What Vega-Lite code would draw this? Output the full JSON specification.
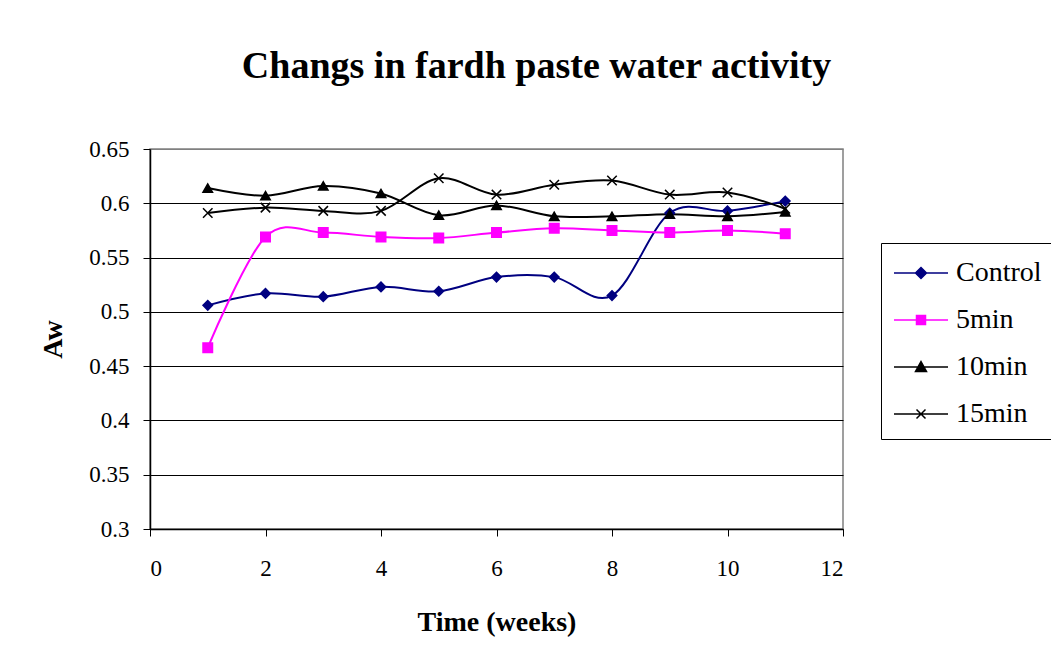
{
  "$schema": "https://vega.github.io/schema/vega-lite/v6.json",
  "width": 693,
  "height": 380,
  "autosize": {"type": "none"},
  "padding": {"left": 150, "top": 149, "right": 208, "bottom": 137},
  "background": "white",
  "title": {
    "text": "Changs in fardh paste water activity",
    "font": "Liberation Serif",
    "fontSize": 38,
    "fontWeight": "bold",
    "color": "black",
    "anchor": "middle",
    "frame": "group",
    "dx": 40,
    "baseline": "alphabetic",
    "offset": 22
  },
  "data": {
    "values": [
      {"week": 1, "series": "Control", "aw": 0.506},
      {"week": 2, "series": "Control", "aw": 0.517},
      {"week": 3, "series": "Control", "aw": 0.514},
      {"week": 4, "series": "Control", "aw": 0.523},
      {"week": 5, "series": "Control", "aw": 0.519},
      {"week": 6, "series": "Control", "aw": 0.532},
      {"week": 7, "series": "Control", "aw": 0.532},
      {"week": 8, "series": "Control", "aw": 0.515},
      {"week": 9, "series": "Control", "aw": 0.591},
      {"week": 10, "series": "Control", "aw": 0.593},
      {"week": 11, "series": "Control", "aw": 0.602},
      {"week": 1, "series": "5min", "aw": 0.467},
      {"week": 2, "series": "5min", "aw": 0.569},
      {"week": 3, "series": "5min", "aw": 0.573},
      {"week": 4, "series": "5min", "aw": 0.569},
      {"week": 5, "series": "5min", "aw": 0.568},
      {"week": 6, "series": "5min", "aw": 0.573},
      {"week": 7, "series": "5min", "aw": 0.577},
      {"week": 8, "series": "5min", "aw": 0.575},
      {"week": 9, "series": "5min", "aw": 0.573},
      {"week": 10, "series": "5min", "aw": 0.575},
      {"week": 11, "series": "5min", "aw": 0.572},
      {"week": 1, "series": "10min", "aw": 0.614},
      {"week": 2, "series": "10min", "aw": 0.607},
      {"week": 3, "series": "10min", "aw": 0.616},
      {"week": 4, "series": "10min", "aw": 0.609},
      {"week": 5, "series": "10min", "aw": 0.589},
      {"week": 6, "series": "10min", "aw": 0.598},
      {"week": 7, "series": "10min", "aw": 0.588},
      {"week": 8, "series": "10min", "aw": 0.588},
      {"week": 9, "series": "10min", "aw": 0.590},
      {"week": 10, "series": "10min", "aw": 0.588},
      {"week": 11, "series": "10min", "aw": 0.592},
      {"week": 1, "series": "15min", "aw": 0.591},
      {"week": 2, "series": "15min", "aw": 0.596},
      {"week": 3, "series": "15min", "aw": 0.593},
      {"week": 4, "series": "15min", "aw": 0.593},
      {"week": 5, "series": "15min", "aw": 0.623},
      {"week": 6, "series": "15min", "aw": 0.608},
      {"week": 7, "series": "15min", "aw": 0.617},
      {"week": 8, "series": "15min", "aw": 0.621},
      {"week": 9, "series": "15min", "aw": 0.608},
      {"week": 10, "series": "15min", "aw": 0.610},
      {"week": 11, "series": "15min", "aw": 0.595}
    ]
  },
  "encoding": {
    "x": {
      "field": "week",
      "type": "quantitative",
      "scale": {"domain": [0, 12], "nice": false, "zero": false},
      "axis": {
        "title": "Time (weeks)",
        "values": [0, 2, 4, 6, 8, 10, 12],
        "grid": false,
        "labelFont": "Liberation Serif",
        "labelFontSize": 23,
        "labelPadding": 21,
        "titlePadding": 28
      }
    },
    "y": {
      "field": "aw",
      "type": "quantitative",
      "scale": {"domain": [0.3, 0.65], "nice": false, "zero": false},
      "axis": {
        "title": "Aw",
        "values": [0.3, 0.35, 0.4, 0.45, 0.5, 0.55, 0.6, 0.65],
        "format": ".2~f",
        "grid": true,
        "gridColor": {"condition": {"test": "datum.value >= 0.649", "value": "#808080"}, "value": "black"},
        "labelFont": "Liberation Serif",
        "labelFontSize": 23,
        "labelPadding": 14,
        "titlePadding": 21
      }
    }
  },
  "layer": [
    {
      "mark": {"type": "line", "interpolate": "cardinal", "strokeWidth": 2},
      "encoding": {
        "color": {
          "field": "series",
          "type": "nominal",
          "scale": {"domain": ["Control", "5min", "10min", "15min"], "range": ["#000080", "#FF00FF", "#000000", "#000000"]},
          "legend": null
        }
      }
    },
    {
      "mark": {"type": "point", "filled": true, "size": 90, "strokeWidth": 1.5, "opacity": 1},
      "encoding": {
        "shape": {
          "field": "series",
          "type": "nominal",
          "scale": {"domain": ["Control", "5min", "10min", "15min"], "range": ["diamond", "square", "triangle-up", "M-1,-1L1,1M1,-1L-1,1"]},
          "legend": null
        },
        "fill": {
          "field": "series",
          "type": "nominal",
          "scale": {"domain": ["Control", "5min", "10min", "15min"], "range": ["#000080", "#FF00FF", "#000000", "transparent"]},
          "legend": null
        },
        "stroke": {
          "field": "series",
          "type": "nominal",
          "scale": {"domain": ["Control", "5min", "10min", "15min"], "range": ["#000080", "#FF00FF", "#000000", "#000000"]},
          "legend": null
        }
      }
    },
    {
      "transform": [{"filter": "false"}],
      "mark": {"type": "point", "filled": true, "size": 100, "strokeWidth": 1.5, "opacity": 1},
      "encoding": {
        "shape": {
          "field": "series",
          "type": "nominal",
          "scale": {
            "domain": ["Control", "5min", "10min", "15min"],
            "range": [
              "M-5.4,0L5.4,0M0,-1.1L1.1,0L0,1.1L-1.1,0Z",
              "M-5.4,0L5.4,0M-0.9,-0.9L0.9,-0.9L0.9,0.9L-0.9,0.9Z",
              "M-5.4,0L5.4,0M0,-1.1L1.1,0.9L-1.1,0.9Z",
              "M-5.4,0L5.4,0M-0.9,-0.9L0.9,0.9M0.9,-0.9L-0.9,0.9"
            ]
          },
          "legend": {
            "orient": "none",
            "legendX": 731,
            "legendY": 94,
            "title": " ",
            "titleFontSize": 1,
            "titlePadding": 4,
            "symbolOffset": 15,
            "labelOffset": 21,
            "labelFont": "Liberation Serif",
            "labelFontSize": 28
          }
        },
        "fill": {
          "field": "series",
          "type": "nominal",
          "scale": {"domain": ["Control", "5min", "10min", "15min"], "range": ["#000080", "#FF00FF", "#000000", "transparent"]}
        },
        "stroke": {
          "field": "series",
          "type": "nominal",
          "scale": {"domain": ["Control", "5min", "10min", "15min"], "range": ["#000080", "#FF00FF", "#000000", "#000000"]}
        }
      }
    }
  ],
  "resolve": {"scale": {"shape": "independent", "fill": "independent", "stroke": "independent"}},
  "config": {
    "view": {"stroke": "#808080", "strokeWidth": 1.5},
    "legend": {
      "strokeColor": "black",
      "padding": 11,
      "symbolSize": 100,
      "symbolStrokeWidth": 1.5,
      "labelOffset": 21,
      "symbolOffset": 15,
      "labelFont": "Liberation Serif",
      "labelFontSize": 28,
      "labelColor": "black",
      "labelLimit": 300,
      "rowPadding": 19
    },
    "axis": {
      "domainColor": "black",
      "domainWidth": 1.5,
      "tickColor": "black",
      "tickSize": 7,
      "tickWidth": 1,
      "gridWidth": 1,
      "labelColor": "black",
      "titleFont": "Liberation Serif",
      "titleFontSize": 28,
      "titleFontWeight": "bold",
      "titleColor": "black"
    }
  }
}
